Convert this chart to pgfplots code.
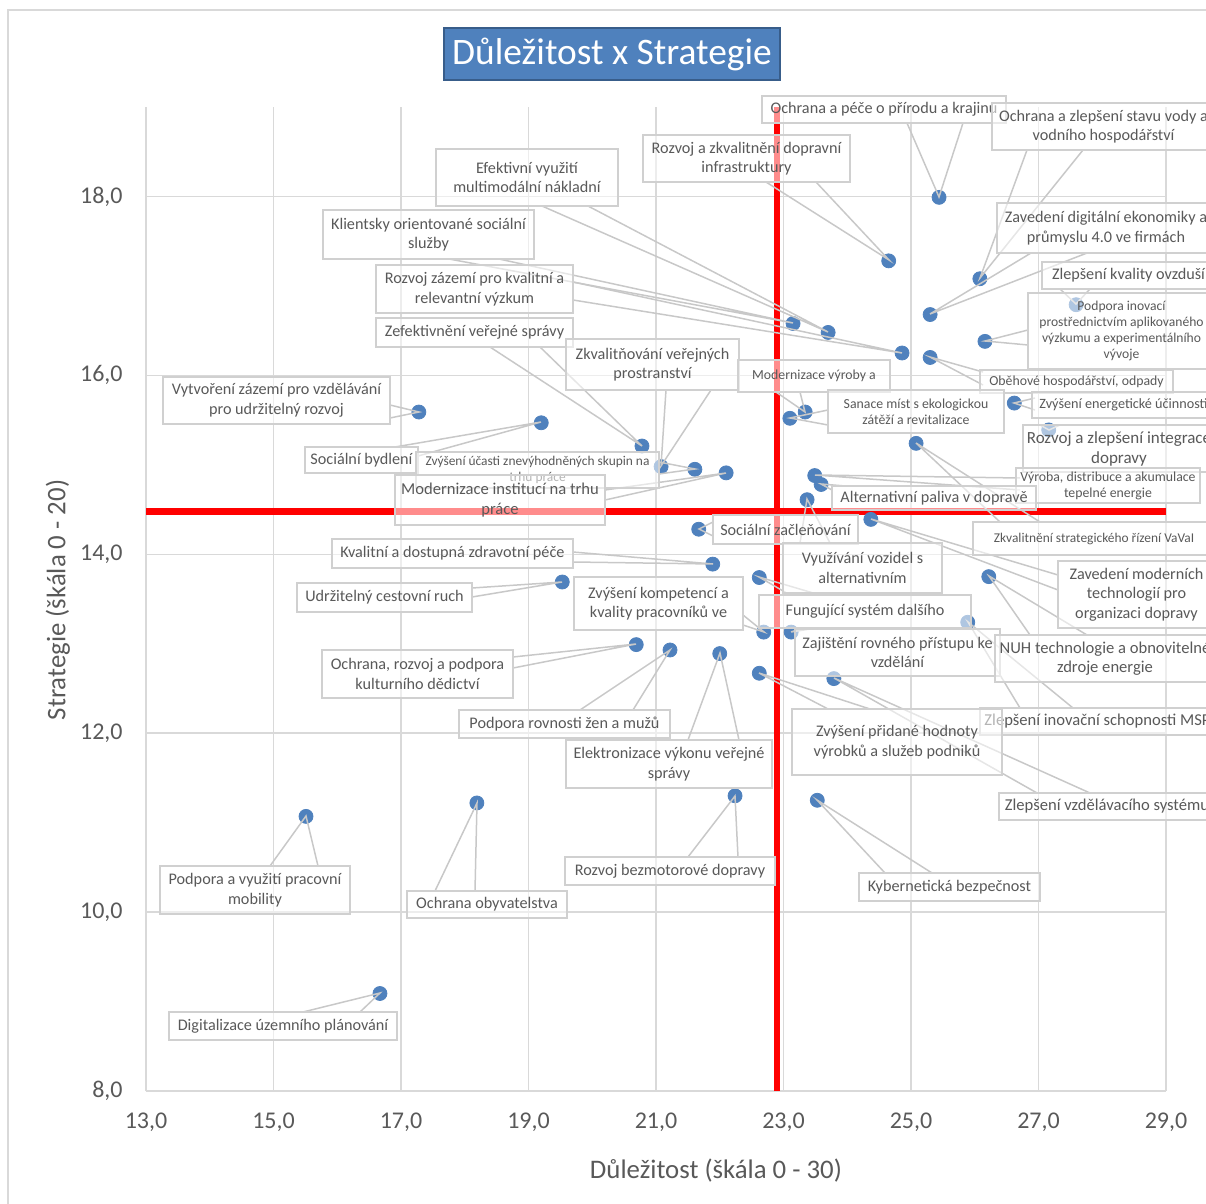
\documentclass[border=0pt]{standalone}
\usepackage{fontspec}
\setmainfont{Carlito}
\usepackage{pgfplots}
\pgfplotsset{compat=1.18}

\definecolor{ptblue}{HTML}{4F81BD}
\definecolor{txt}{HTML}{595959}
\definecolor{gridc}{HTML}{D9D9D9}
\definecolor{boxc}{HTML}{D0D0D0}
\definecolor{leadc}{HTML}{C8C8C8}
\definecolor{titleborder}{HTML}{385D8A}

% label box: x1 y1 x2 y2 (pixels), font size, baselineskip, text
\newcommand\lab[7]{%
  \path[draw=boxc, fill=white, fill opacity=0.55, line width=0.75pt] (#1,#2) rectangle (#3,#4);
  \node[text=txt, align=center, inner sep=0pt, font=\fontsize{#5}{#6}\selectfont]
    at ({(#1+#3)/2},{(#2+#4)/2}) {#7};}
% leader: base point 1, base point 2, tip
\newcommand\ldr[6]{\draw[leadc, line width=0.75pt] (#1,#2) -- (#5,#6) -- (#3,#4);}

\begin{document}
\begin{tikzpicture}
\useasboundingbox (0pt,0pt) rectangle (603pt,-602pt);
\begin{scope}[x=0.5pt, y=-0.5pt]
\draw[gridc, line width=0.75pt] (8,10) rectangle (1300,1300);
\end{scope}

\begin{axis}[
    at={(73pt,-545.5pt)}, anchor=south west,
    scale only axis, width=510pt, height=492pt,
    xmin=13, xmax=29, ymin=8, ymax=19,
    xtick={13,15,...,29}, ytick={8,10,...,18},
    grid=major, major grid style={draw=gridc, line width=0.75pt},
    axis line style={draw=none}, major tick length=0pt,
    ticklabel style={text=txt, font=\fontsize{12}{14}\selectfont},
    xticklabel style={anchor=center, inner sep=0pt, yshift=-15.5pt},
    yticklabel style={anchor=east, inner sep=0pt, xshift=-11.5pt},
    /pgf/number format/use comma,
    /pgf/number format/fixed,
    /pgf/number format/fixed zerofill,
    /pgf/number format/precision=1,
    /pgf/number format/assume math mode=true,
    clip=false,
]
\addplot[red, line width=2.75pt] coordinates {(22.9,8) (22.9,19)};
\addplot[red, line width=3.25pt] coordinates {(13,14.48) (29,14.48)};
\addplot[only marks, mark=*, mark size=3.5pt, mark options={fill=ptblue, draw=ptblue}] table {
x y
25.44 17.99
24.65 17.28
26.08 17.08
25.30 16.68
27.59 16.79
23.15 16.58
23.70 16.48
26.16 16.38
24.86 16.25
25.30 16.20
17.28 15.59
19.20 15.47
26.62 15.69
27.16 15.39
23.34 15.59
23.10 15.52
25.08 15.24
20.78 15.21
21.08 14.98
21.61 14.95
22.10 14.91
23.49 14.88
23.59 14.78
23.37 14.61
24.37 14.39
21.67 14.28
21.89 13.89
19.53 13.69
22.62 13.74
26.22 13.75
25.89 13.24
22.69 13.13
23.12 13.13
20.69 12.99
21.22 12.93
22.00 12.89
22.62 12.67
23.79 12.61
15.51 11.07
18.19 11.22
22.24 11.30
23.53 11.25
16.67 9.09
};
\end{axis}

\begin{scope}[x=0.5pt, y=-0.5pt]
% leaders
\ldr{907}{123}{963}{123}{939}{197}
\ldr{766}{182}{816}{182}{889}{260}
\ldr{1027}{150}{1083}{150}{980}{278}
\ldr{1031}{253}{1087}{253}{930}{314}
\ldr{1060}{289}{1090}{289}{1076}{304}
\ldr{449}{259}{499}{259}{793}{323}
\ldr{542}{206}{588}{206}{828}{332}
\ldr{1028}{330}{1028}{345}{985}{341}
\ldr{573}{282}{573}{300}{902}{353}
\ldr{983}{372}{983}{385}{930}{357}
\ldr{390}{405}{390}{418}{419}{412}
\ldr{395}{447}{418}{456}{541}{422}
\ldr{1035}{398}{1035}{410}{1014}{403}
\ldr{1040}{425}{1060}{425}{1049}{430}
\ldr{776}{392}{800}{392}{805}{412}
\ldr{828}{410}{828}{425}{790}{418}
\ldr{1000}{522}{1040}{522}{916}{443}
\ldr{490}{347}{540}{347}{642}{446}
\ldr{666}{390}{711}{390}{661}{466}
\ldr{659}{462}{659}{474}{695}{469}
\ldr{605}{490}{605}{500}{726}{473}
\ldr{1020}{478}{1020}{490}{815}{475}
\ldr{832}{490}{845}{486}{821}{484}
\ldr{800}{543}{830}{543}{807}{499}
\ldr{1058}{575}{1058}{590}{871}{519}
\ldr{713}{522}{713}{536}{699}{529}
\ldr{573}{552}{573}{562}{713}{564}
\ldr{472}{588}{472}{597}{562}{582}
\ldr{790}{595}{820}{595}{759}{577}
\ldr{1030}{635}{1087}{635}{989}{576}
\ldr{1020}{708}{1073}{708}{968}{622}
\ldr{743}{615}{743}{625}{764}{632}
\ldr{800}{629}{810}{629}{791}{632}
\ldr{513}{657}{513}{668}{636}{644}
\ldr{580}{710}{633}{710}{670}{650}
\ldr{688}{740}{739}{740}{720}{653}
\ldr{828}{709}{870}{709}{759}{673}
\ldr{1037}{793}{1090}{793}{834}{678}
\ldr{270}{866}{318}{866}{306}{816}
\ldr{435}{891}{475}{891}{477}{803}
\ldr{688}{857}{738}{857}{735}{796}
\ldr{885}{873}{932}{873}{817}{800}
\ldr{303}{1012}{360}{1012}{380}{993}

% label boxes
\lab{762}{96}{1006}{123}{8.1}{9.8}{Ochrana a péče o přírodu a krajinu}
\lab{992}{103}{1215}{150}{8.1}{9.8}{Ochrana a zlepšení stavu vody a\\vodního hospodářství}
\lab{643}{135}{850}{182}{8.1}{9.8}{Rozvoj a zkvalitnění dopravní\\infrastruktury}
\lab{436}{149}{618}{206}{8.1}{9.8}{Efektivní využití\\multimodální nákladní}
\lab{997}{203}{1215}{253}{8.1}{9.8}{Zavedení digitální ekonomiky a\\průmyslu 4.0 ve firmách}
\lab{323}{210}{534}{259}{8.1}{9.8}{Klientsky orientované sociální\\služby}
\lab{1042}{262}{1215}{289}{8.1}{9.8}{Zlepšení kvality ovzduší}
\lab{376}{265}{573}{313}{8.1}{9.8}{Rozvoj zázemí pro kvalitní a\\relevantní výzkum}
\lab{1028}{293}{1215}{369}{6.8}{8}{Podpora inovací\\prostřednictvím aplikovaného\\výzkumu a experimentálního\\vývoje}
\lab{376}{318}{573}{347}{8.1}{9.8}{Zefektivnění veřejné správy}
\lab{566}{339}{739}{390}{8.1}{9.8}{Zkvalitňování veřejných\\prostranství}
\lab{738}{360}{890}{392}{6.9}{8}{Modernizace výroby a}
\lab{980}{370}{1173}{393}{6.9}{8}{Oběhové hospodářství, odpady}
\lab{163}{377}{390}{424}{8.1}{9.8}{Vytvoření zázemí pro vzdělávání\\pro udržitelný rozvoj}
\lab{828}{390}{1004}{433}{6.9}{8}{Sanace míst s ekologickou\\zátěží a revitalizace}
\lab{1032}{392}{1215}{418}{7.1}{8}{Zvýšení energetické účinnosti}
\lab{1023}{425}{1215}{472}{8.5}{10}{Rozvoj a zlepšení integrace\\dopravy}
\lab{305}{447}{418}{473}{8.1}{9.8}{Sociální bydlení}
\lab{416}{452}{659}{488}{6.7}{8.4}{Zvýšení účasti znevýhodněných skupin na\\trhu práce}
\lab{1016}{468}{1200}{503}{6.9}{8}{Výroba, distribuce a akumulace\\tepelné energie}
\lab{395}{475}{605}{525}{8.3}{10}{Modernizace institucí na trhu\\práce}
\lab{832}{486}{1036}{510}{8.1}{9.8}{Alternativní paliva v dopravě}
\lab{713}{515}{858}{544}{8.1}{9.8}{Sociální začleňování}
\lab{973}{522}{1215}{555}{6.7}{8}{Zkvalitnění strategického řízení VaVaI}
\lab{332}{539}{573}{568}{8.1}{9.8}{Kvalitní a dostupná zdravotní péče}
\lab{783}{543}{942}{593}{8.1}{9.8}{Využívání vozidel s\\alternativním}
\lab{1058}{561}{1215}{628}{8.1}{9.8}{Zavedení moderních\\technologií pro\\organizaci dopravy}
\lab{574}{577}{743}{630}{8.1}{9.8}{Zvýšení kompetencí a\\kvality pracovníků ve}
\lab{297}{583}{472}{612}{8.1}{9.8}{Udržitelný cestovní ruch}
\lab{759}{595}{971}{628}{8.1}{9.8}{Fungující systém dalšího}
\lab{795}{629}{1000}{676}{8.1}{9.8}{Zajištění rovného přístupu ke\\vzdělání}
\lab{995}{635}{1215}{682}{8.3}{9.8}{NUH technologie a obnovitelné\\zdroje energie}
\lab{322}{650}{513}{698}{8.1}{9.8}{Ochrana, rozvoj a podpora\\kulturního dědictví}
\lab{980}{708}{1215}{735}{8.3}{9.8}{Zlepšení inovační schopnosti MSP}
\lab{792}{709}{1002}{775}{8.1}{9.8}{Zvýšení přidané hodnoty\\výrobků a služeb podniků}
\lab{459}{710}{670}{738}{8.1}{9.8}{Podpora rovnosti žen a mužů}
\lab{566}{740}{772}{788}{8.1}{9.8}{Elektronizace výkonu veřejné\\správy}
\lab{999}{793}{1215}{820}{8.3}{9.8}{Zlepšení vzdělávacího systému}
\lab{565}{857}{775}{885}{8.1}{9.8}{Rozvoj bezmotorové dopravy}
\lab{160}{866}{350}{914}{8.1}{9.8}{Podpora a využití pracovní\\mobility}
\lab{859}{873}{1040}{901}{8.1}{9.8}{Kybernetická bezpečnost}
\lab{407}{891}{567}{918}{8.1}{9.8}{Ochrana obyvatelstva}
\lab{169}{1012}{397}{1040}{8.1}{9.8}{Digitalizace územního plánování}

% title and axis labels
\path[fill=ptblue, draw=titleborder, line width=1pt] (444,28) rectangle (780,80);
\node[text=white, font=\fontsize{18.7}{22}\selectfont] at (612,54) {Důležitost x Strategie};
\node[text=txt, font=\fontsize{13.4}{16}\selectfont] at (716,1171) {Důležitost (škála 0 - 30)};
\node[text=txt, font=\fontsize{13.4}{16}\selectfont, rotate=90] at (58,600) {Strategie (škála 0 - 20)};
\end{scope}
\end{tikzpicture}
\end{document}
